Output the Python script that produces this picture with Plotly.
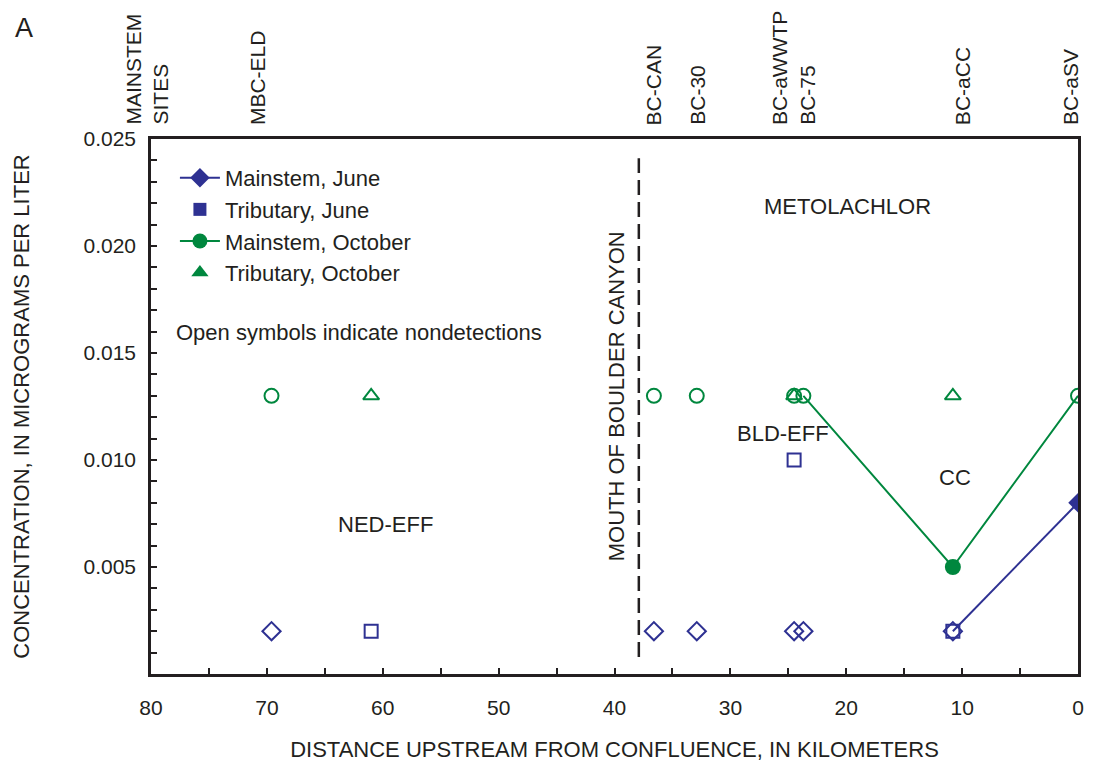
import plotly.graph_objects as go

# ---- data ----
site_km = [69.6, 36.6, 32.9, 24.5, 23.7, 10.8, 0.0]
ms_june_conc = [0.002, 0.002, 0.002, 0.002, 0.002, 0.002, 0.008]
ms_june_detect = [False, False, False, False, False, False, True]
ms_oct_conc = [0.013, 0.013, 0.013, 0.013, 0.013, 0.005, 0.013]
ms_oct_detect = [False, False, False, False, False, True, False]
ms_june_line_start = 5
ms_oct_line_start = 4

trib_km = [61.0, 24.5, 10.8]
trib_june_conc = [0.002, 0.010, 0.002]
trib_oct_conc = [0.013, 0.013, 0.013]

top_labels = ["MBC-ELD", "BC-CAN", "BC-30", "BC-aWWTP", "BC-75", "BC-aCC", "BC-aSV"]
top_label_km = [70.8, 36.6, 32.9, 25.8, 23.4, 10.0, 0.7]

canyon_km = 37.9

x_ticks = [80, 70, 60, 50, 40, 30, 20, 10, 0]
y_ticks = [0.005, 0.010, 0.015, 0.020, 0.025]

BLUE = "#2E3192"
GREEN = "#00873E"
TXT = "#231F20"
FONT = "Liberation Sans, Arial, sans-serif"
FS = 22

# page body has an 8px margin; figure sized so the plot lands where the reference has it
W, H = 1091, 762
ML, MR, MT, MB = 140, 21, 131, 95
PW, PH = W - ML - MR, H - MT - MB
OX, OY = 8 + ML, 8 + MT  # screen position of plot top-left


def px(sx):
    return (sx - OX) / PW


def py(sy):
    return 1 - (sy - OY) / PH


fig = go.Figure()


def split(xs, ys, flags, want):
    return [x for x, f in zip(xs, flags) if f == want], [y for y, f in zip(ys, flags) if f == want]


# lines
fig.add_trace(go.Scatter(x=site_km[ms_june_line_start:], y=ms_june_conc[ms_june_line_start:],
                         mode="lines", line=dict(color=BLUE, width=2), showlegend=False))
fig.add_trace(go.Scatter(x=site_km[ms_oct_line_start:], y=ms_oct_conc[ms_oct_line_start:],
                         mode="lines", line=dict(color=GREEN, width=2), showlegend=False))

# mainstem october
x, y = split(site_km, ms_oct_conc, ms_oct_detect, False)
fig.add_trace(go.Scatter(x=x, y=y, mode="markers", showlegend=False,
                         marker=dict(symbol="circle-open", size=14, color=GREEN, line=dict(width=2, color=GREEN))))
x, y = split(site_km, ms_oct_conc, ms_oct_detect, True)
fig.add_trace(go.Scatter(x=x, y=y, mode="markers", showlegend=False,
                         marker=dict(symbol="circle", size=16, color=GREEN)))
# tributary october
fig.add_trace(go.Scatter(x=trib_km, y=trib_oct_conc, mode="markers", showlegend=False,
                         marker=dict(symbol="triangle-up-open", size=14, color=GREEN, line=dict(width=2, color=GREEN))))
# mainstem june
x, y = split(site_km, ms_june_conc, ms_june_detect, False)
fig.add_trace(go.Scatter(x=x, y=y, mode="markers", showlegend=False,
                         marker=dict(symbol="diamond-open", size=14, color=BLUE, line=dict(width=2, color=BLUE))))
x, y = split(site_km, ms_june_conc, ms_june_detect, True)
fig.add_trace(go.Scatter(x=x, y=y, mode="markers", showlegend=False,
                         marker=dict(symbol="diamond", size=15, color=BLUE)))
# tributary june
fig.add_trace(go.Scatter(x=trib_km, y=trib_june_conc, mode="markers", showlegend=False,
                         marker=dict(symbol="square-open", size=13, color=BLUE, line=dict(width=2, color=BLUE))))

# legend entries
fig.add_trace(go.Scatter(x=[None], y=[None], mode="lines+markers", name="Mainstem, June",
                         line=dict(color=BLUE, width=2), marker=dict(symbol="diamond", size=15, color=BLUE)))
fig.add_trace(go.Scatter(x=[None], y=[None], mode="markers", name="Tributary, June",
                         marker=dict(symbol="square", size=13, color=BLUE)))
fig.add_trace(go.Scatter(x=[None], y=[None], mode="lines+markers", name="Mainstem, October",
                         line=dict(color=GREEN, width=2), marker=dict(symbol="circle", size=15, color=GREEN)))
fig.add_trace(go.Scatter(x=[None], y=[None], mode="markers", name="Tributary, October",
                         marker=dict(symbol="triangle-up", size=15, color=GREEN)))

# dashed line
fig.add_shape(type="line", x0=canyon_km, x1=canyon_km, y0=0.0008, y1=0.0241,
              line=dict(color=TXT, width=2.5, dash="15px,7px"))

annots = []
for lab, km in zip(top_labels, top_label_km):
    annots.append(dict(x=km, y=1, xref="x", yref="paper", text=lab, textangle=-90,
                       showarrow=False, xanchor="center", yanchor="bottom", yshift=12,
                       font=dict(size=21, color=TXT, family=FONT)))
annots.append(dict(x=px(143), y=1, xref="paper", yref="paper", text="MAINSTEM<br>SITES", textangle=-90,
                   showarrow=False, xanchor="center", yanchor="bottom", yshift=12, align="left",
                   font=dict(size=21, color=TXT, family=FONT)))
texts = [
    ("MOUTH OF BOULDER CANYON", 39.8, 0.01297, -90),
    ("METOLACHLOR", 19.87, 0.02183, 0),
    ("BLD-EFF", 25.46, 0.01125, 0),
    ("CC", 10.6, 0.0092, 0),
    ("NED-EFF", 59.8, 0.0070, 0),
]
for t, xx, yy, ang in texts:
    annots.append(dict(x=xx, y=yy, xref="x", yref="y", text=t, textangle=ang, showarrow=False,
                       font=dict(size=FS, color=TXT, family=FONT)))
annots.append(dict(x=px(171), y=py(333), xref="paper", yref="paper",
                   text="Open symbols indicate nondetections", xanchor="left", yanchor="middle",
                   showarrow=False, font=dict(size=FS, color=TXT, family=FONT)))
annots.append(dict(x=px(10), y=py(28), xref="paper", yref="paper", text="A", showarrow=False,
                   xanchor="left", yanchor="middle", font=dict(size=27, color=TXT, family=FONT)))

fig.update_layout(
    width=W, height=H,
    margin=dict(l=ML, r=MR, t=MT, b=MB),
    paper_bgcolor="white", plot_bgcolor="white",
    font=dict(family=FONT, size=FS, color=TXT),
    annotations=annots,
    legend=dict(x=px(172), y=py(157), xanchor="left", yanchor="top", bgcolor="rgba(0,0,0,0)",
                font=dict(size=FS), tracegroupgap=0, itemwidth=40),
    xaxis=dict(range=[80, 0], tickvals=x_ticks, ticktext=[str(v) for v in x_ticks],
               ticks="inside", ticklen=6, tickwidth=2, tickcolor=TXT,
               minor=dict(dtick=5, ticks="inside", ticklen=6, tickwidth=2, tickcolor=TXT),
               showline=True, linecolor=TXT, linewidth=2.5, mirror=True,
               showgrid=False, zeroline=False, tickfont=dict(size=21), ticklabelstandoff=13,
               title=dict(text="DISTANCE UPSTREAM FROM CONFLUENCE, IN KILOMETERS", standoff=24,
                          font=dict(size=FS))),
    yaxis=dict(range=[0, 0.025], tickvals=y_ticks, ticktext=["%.3f" % v for v in y_ticks],
               ticks="inside", ticklen=6, tickwidth=2, tickcolor=TXT,
               minor=dict(dtick=0.001, ticks="inside", ticklen=6, tickwidth=2, tickcolor=TXT),
               showline=True, linecolor=TXT, linewidth=2.5, mirror=True,
               showgrid=False, zeroline=False, tickfont=dict(size=21), ticklabelstandoff=8,
               title=dict(text="CONCENTRATION, IN MICROGRAMS PER LITER", standoff=48,
                          font=dict(size=FS))),
)

fig.write_html("out.html")
